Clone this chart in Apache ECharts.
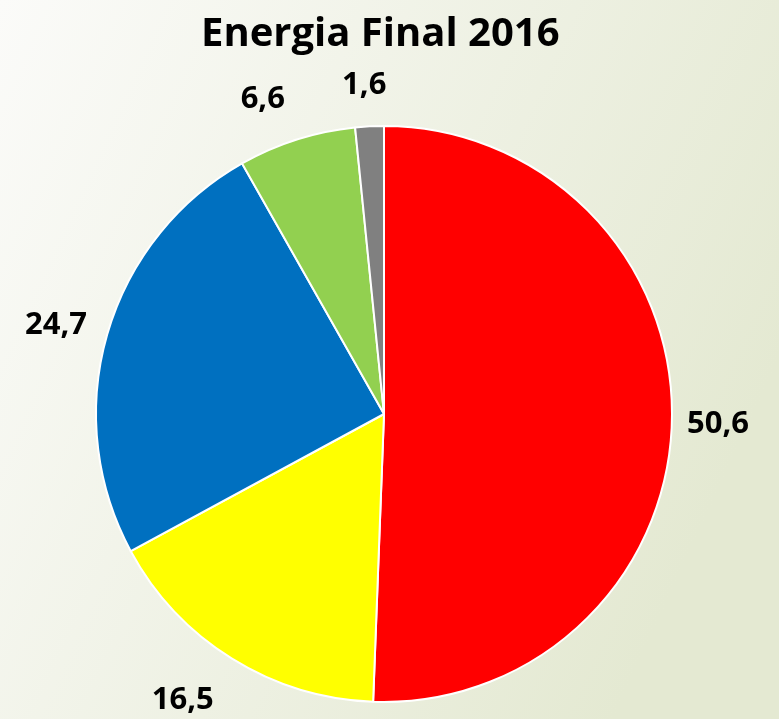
<!DOCTYPE html>
<html>
<head>
<meta charset="utf-8">
<script src="https://cdn.jsdelivr.net/npm/echarts@6/dist/echarts.min.js"></script>
<style>
html,body{margin:0;padding:0;}
#chart{width:779px;height:719px;}
</style>
</head>
<body>
<div id="chart"></div>
<script>
// Energia final 2016 - shares
var names = ['A', 'B', 'C', 'D', 'E'];
var values = [50.6, 16.5, 24.7, 6.6, 1.6];
var colors = ['#ff0000', '#ffff00', '#0070c0', '#92d050', '#808080'];
// small nudges so the labels sit where the original puts them
var labelNudge = [[0, 4], [-25, 2], [-7, 3], [-20, 3], [-3, 5]];

var pieData = [], labelData = [];
for (var i = 0; i < values.length; i++) {
	pieData.push({name: names[i], value: values[i], itemStyle: {color: colors[i]}});
	labelData.push({name: names[i], value: values[i], label: {offset: labelNudge[i]}});
}

var myChart = echarts.init(document.getElementById('chart'));
var option = {
	backgroundColor: {
		type: 'linear', x: 0, y: 0, x2: 1, y2: 0.5,
		colorStops: [{offset: 0, color: '#fbfbf9'}, {offset: 1, color: '#e4e9d2'}]
	},
	title: {
		text: 'Energia Final 2016',
		left: 196,
		top: 10,
		textStyle: {fontFamily: 'Open Sans', fontWeight: 'bold', fontSize: 40, color: '#000'}
	},
	series: [{
		type: 'pie',
		center: [384, 414],
		radius: 288,
		startAngle: 90,
		clockwise: true,
		animation: false,
		itemStyle: {borderColor: '#fff', borderWidth: 2},
		label: {show: false},
		labelLine: {show: false},
		data: pieData
	}, {
		// invisible ring, only used to place the value labels outside the pie
		type: 'pie',
		center: [384, 414],
		radius: [292, 370],
		startAngle: 90,
		clockwise: true,
		animation: false,
		silent: true,
		itemStyle: {color: 'rgba(0,0,0,0)', borderWidth: 0},
		label: {
			show: true,
			position: 'inside',
			fontFamily: 'Open Sans',
			fontWeight: 'bold',
			fontSize: 31,
			color: '#000',
			formatter: function (p) { return String(p.value).replace('.', ','); }
		},
		labelLine: {show: false},
		data: labelData
	}]
};
myChart.setOption(option);
</script>
</body>
</html>
